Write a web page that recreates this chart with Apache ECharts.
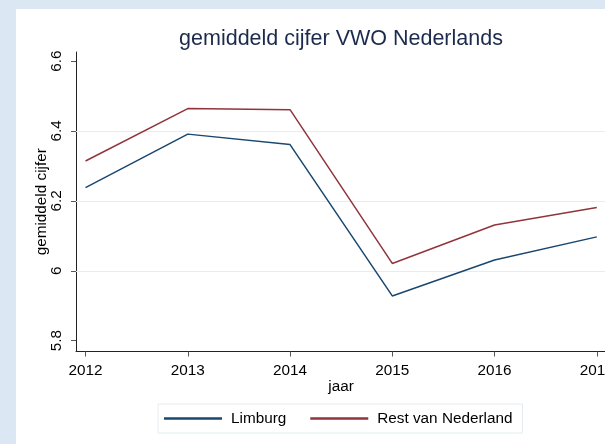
<!DOCTYPE html>
<html>
<head>
<meta charset="utf-8">
<script src="https://cdn.jsdelivr.net/npm/echarts@6/dist/echarts.min.js"></script>
<style>
html,body{margin:0;padding:0;}
#wrap{position:relative;width:605px;height:444px;background:#dce7f4;overflow:hidden;}
#panel{position:absolute;left:16px;top:9px;right:0;bottom:0;background:#ffffff;}
#chart{position:absolute;left:0;top:0;width:620px;height:444px;}
</style>
</head>
<body>
<div id="wrap"><div id="panel"></div><div id="chart"></div></div>
<script>
const titleText = 'gemiddeld cijfer VWO Nederlands';
const years = [2012, 2013, 2014, 2015, 2016, 2017];
const limburg = [6.238, 6.391, 6.361, 5.928, 6.031, 6.097];
const restNL = [6.314, 6.464, 6.461, 6.021, 6.131, 6.181];
const yTicks = [5.8, 6.0, 6.2, 6.4, 6.6];
const gridValues = [6.0, 6.2, 6.4];
const seriesNames = ['Limburg', 'Rest van Nederland'];

const FONT = '"Liberation Sans", Arial, sans-serif';
const chart = echarts.init(document.getElementById('chart'), null, {renderer: 'canvas'});

const pairs = (vals) => years.map((y, i) => [y, vals[i]]);

chart.setOption({
  backgroundColor: 'transparent',
  animation: false,
  textStyle: {fontFamily: FONT},
  graphic: [{
    type: 'text',
    style: {
      text: titleText, x: 341, y: 39,
      textAlign: 'center', textVerticalAlign: 'middle',
      font: '21.5px ' + FONT, fill: '#1c2b4d'
    }
  }],
  grid: {left: 76, top: 52, width: 530, bottom: 92.5, containLabel: false},
  xAxis: {
    type: 'value', min: 2011.907, max: 2017.09,
    name: 'jaar', nameLocation: 'middle', nameGap: 28, nameMoveOverlap: false,
    nameTextStyle: {fontSize: 15.3, color: '#000', fontFamily: FONT},
    axisLine: {show: true, onZero: false, lineStyle: {color: '#222', width: 1}},
    axisTick: {show: true, length: 5, customValues: years, lineStyle: {color: '#555'}},
    axisLabel: {customValues: years, margin: 12, fontSize: 15.3, color: '#000', fontFamily: FONT,
      formatter: (v) => String(v)},
    splitLine: {show: false}
  },
  yAxis: {
    type: 'value', min: 5.769, max: 6.626,
    name: 'gemiddeld cijfer', nameLocation: 'middle', nameGap: 26.5, nameRotate: 90, nameMoveOverlap: false,
    nameTextStyle: {fontSize: 15.3, color: '#000', fontFamily: FONT},
    axisLine: {show: true, onZero: false, lineStyle: {color: '#222', width: 1}},
    axisTick: {show: true, length: 5, customValues: yTicks, lineStyle: {color: '#555'}},
    axisLabel: {customValues: yTicks, rotate: 90, margin: 12, fontSize: 15.3, color: '#000', fontFamily: FONT,
      formatter: (v) => (Math.abs(v - Math.round(v)) < 1e-9 ? String(Math.round(v)) : v.toFixed(1))},
    splitLine: {show: false}
  },
  legend: {
    data: seriesNames,
    left: 158, top: 404,
    padding: [7, 10, 7, 6],
    itemGap: 24,
    itemWidth: 58, itemHeight: 2.5,
    icon: 'rect',
    borderColor: '#e3ecef', borderWidth: 1,
    backgroundColor: '#ffffff',
    textStyle: {fontSize: 15.3, color: '#000', fontFamily: FONT, padding: [0, 0, 0, 4]}
  },
  series: [
    {
      name: '_grid', type: 'line', data: [], z: 1, silent: true,
      markLine: {
        z: 1, silent: true, symbol: 'none', label: {show: false},
        lineStyle: {color: '#e4edef', width: 1, type: 'solid'},
        data: gridValues.map(v => ({yAxis: v}))
      }
    },
    {
      name: seriesNames[0], type: 'line', data: pairs(limburg), z: 3,
      showSymbol: false, symbol: 'none',
      lineStyle: {color: '#1a476f', width: 1.5}, itemStyle: {color: '#1a476f'}
    },
    {
      name: seriesNames[1], type: 'line', data: pairs(restNL), z: 3,
      showSymbol: false, symbol: 'none',
      lineStyle: {color: '#90353b', width: 1.5}, itemStyle: {color: '#90353b'}
    }
  ]
});
</script>
</body>
</html>
